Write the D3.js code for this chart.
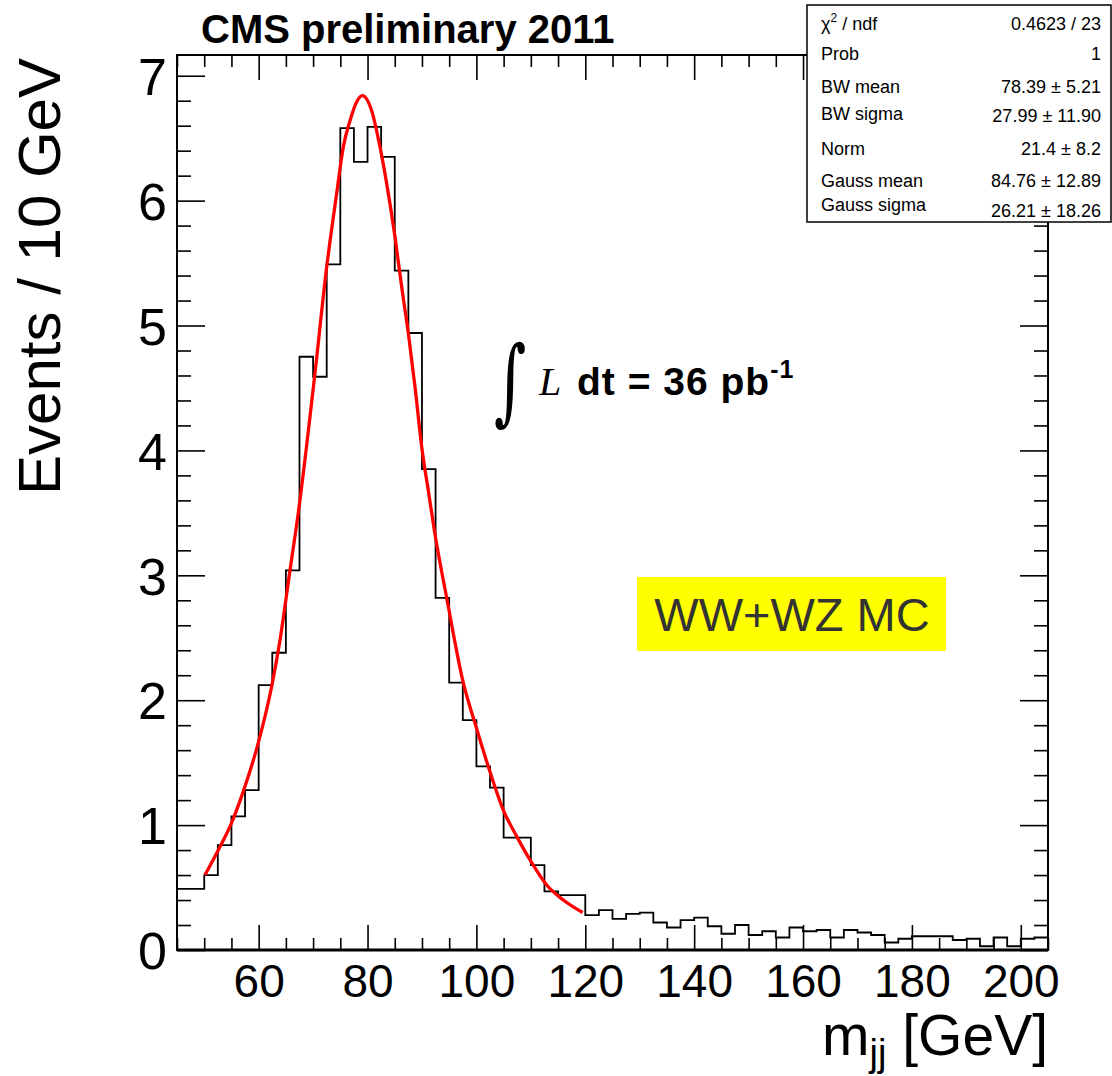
<!DOCTYPE html>
<html>
<head>
<meta charset="utf-8">
<script src="https://cdn.jsdelivr.net/npm/d3@7"></script>
<style>
  body { margin: 0; background: #fff; }
  svg { display: block; }
</style>
</head>
<body>
<div id="viz"></div>
<script>
// Canvas size
const width = 1112;
const height = 1076;

// Histogram: 2.5 GeV bins from 45 to 205 GeV
const binStart = 45;
const binWidth = 2.5;
const binCounts = [
    0.49, 0.49, 0.60, 0.84, 1.07, 1.28, 2.12, 2.38,
    3.04, 4.75, 4.59, 5.49, 6.58, 6.31, 6.59, 6.35,
    5.44, 4.94, 3.85, 2.82, 2.14, 1.84, 1.47, 1.30,
    0.90, 0.90, 0.68, 0.47, 0.44, 0.44, 0.28, 0.32,
    0.25, 0.29, 0.30, 0.22, 0.18, 0.24, 0.26, 0.19,
    0.13, 0.20, 0.12, 0.15, 0.10, 0.18, 0.15, 0.16,
    0.10, 0.16, 0.14, 0.12, 0.06, 0.09, 0.11, 0.11,
    0.11, 0.08, 0.09, 0.03, 0.10, 0.03, 0.09, 0.10
];

// Fit curve (red line)
const fitX = [50.14, 52.59, 55.04, 57.18, 59.94, 62.39, 63.92, 65.76, 67.28, 70.35,
    72.5, 74.34, 75.55, 76.78, 78.0, 79.05, 80.76, 82.29, 83.81, 85.04,
    86.27, 87.49, 88.72, 89.95, 91.3, 92.5, 94.54, 97.59, 99.92, 102.18,
    104.94, 107.4, 110.15, 112.91, 115.96, 119.52];
const fitY = [0.60, 0.80, 1.02, 1.27, 1.66, 2.11, 2.48, 3.04, 3.50, 4.62,
    5.47, 6.06, 6.43, 6.64, 6.79, 6.84, 6.72, 6.43, 6.06, 5.71,
    5.31, 4.94, 4.51, 4.03, 3.64, 3.30, 2.82, 2.14, 1.79, 1.47,
    1.12, 0.91, 0.70, 0.52, 0.40, 0.30];

// Axis ticks
const xMajorTicks = [60, 80, 100, 120, 140, 160, 180, 200];
const yMajorTicks = [0, 1, 2, 3, 4, 5, 6, 7];

// Fit statistics box
const statLabels = ["χ", "Prob", "BW mean", "BW sigma", "Norm", "Gauss mean", "Gauss sigma"];
const statValues = ["0.4623 / 23", "1", "78.39 ± 5.21", "27.99 ± 11.90", "21.4 ± 8.2", "84.76 ± 12.89", "26.21 ± 18.26"];

const sans = "'Liberation Sans', Arial, Helvetica, sans-serif";

function main() {
    const svg = d3.select("#viz").append("svg")
        .attr("width", width)
        .attr("height", height)
        .style("background", "#fff");

    const x = d3.scaleLinear().domain([45, 205]).range([177, 1048]);
    const y = d3.scaleLinear().domain([0, 7.166]).range([950, 55]);

    const xMinor = d3.range(45, 206, 5).filter(v => xMajorTicks.indexOf(v) < 0);
    const yMinor = d3.range(0, 7.1, 0.2).filter(v => Math.abs(v - Math.round(v)) > 0.01);

    // Histogram outline as a step line
    const steps = [];
    binCounts.forEach((c, i) => {
        steps.push([binStart + i * binWidth, c]);
        steps.push([binStart + (i + 1) * binWidth, c]);
    });
    svg.append("path")
        .datum(steps)
        .attr("fill", "none")
        .attr("stroke", "#000")
        .attr("stroke-width", 1.8)
        .attr("d", d3.line().x(d => x(d[0])).y(d => y(d[1])));

    // Fit curve
    svg.append("path")
        .datum(fitX.map((v, i) => [v, fitY[i]]))
        .attr("fill", "none")
        .attr("stroke", "#ff0000")
        .attr("stroke-width", 3.3)
        .attr("d", d3.line().x(d => x(d[0])).y(d => y(d[1])).curve(d3.curveMonotoneX));

    // Axes: major and minor ticks, all pointing inwards
    const styleAxis = g => {
        g.select(".domain").remove();
        g.selectAll(".tick line").attr("stroke", "#000").attr("stroke-width", 1.6);
    };

    svg.append("g").attr("transform", `translate(0,${y(0)})`)
        .call(d3.axisBottom(x).tickValues(xMajorTicks).tickSizeInner(-25).tickSizeOuter(0).tickPadding(14))
        .call(styleAxis)
        .call(g => g.selectAll("text").attr("font-family", sans).attr("font-size", 46).attr("fill", "#000"));
    svg.append("g").attr("transform", `translate(0,${y(0)})`)
        .call(d3.axisBottom(x).tickValues(xMinor).tickSizeInner(-12).tickSizeOuter(0).tickFormat(""))
        .call(styleAxis);
    svg.append("g").attr("transform", `translate(0,${y.range()[1]})`)
        .call(d3.axisTop(x).tickValues(xMajorTicks).tickSizeInner(-25).tickSizeOuter(0).tickFormat(""))
        .call(styleAxis);
    svg.append("g").attr("transform", `translate(0,${y.range()[1]})`)
        .call(d3.axisTop(x).tickValues(xMinor).tickSizeInner(-12).tickSizeOuter(0).tickFormat(""))
        .call(styleAxis);

    svg.append("g").attr("transform", `translate(${x(45)},0)`)
        .call(d3.axisLeft(y).tickValues(yMajorTicks).tickSizeInner(-28).tickSizeOuter(0).tickPadding(10).tickFormat(d3.format("d")))
        .call(styleAxis)
        .call(g => g.selectAll("text").attr("font-family", sans).attr("font-size", 52).attr("fill", "#000").attr("dy", "0.36em"));
    svg.append("g").attr("transform", `translate(${x(45)},0)`)
        .call(d3.axisLeft(y).tickValues(yMinor).tickSizeInner(-14).tickSizeOuter(0).tickFormat(""))
        .call(styleAxis);
    svg.append("g").attr("transform", `translate(${x(205)},0)`)
        .call(d3.axisRight(y).tickValues(yMajorTicks).tickSizeInner(-28).tickSizeOuter(0).tickFormat(""))
        .call(styleAxis);
    svg.append("g").attr("transform", `translate(${x(205)},0)`)
        .call(d3.axisRight(y).tickValues(yMinor).tickSizeInner(-14).tickSizeOuter(0).tickFormat(""))
        .call(styleAxis);

    // Frame
    svg.append("rect")
        .attr("x", x(45)).attr("y", y.range()[1])
        .attr("width", x(205) - x(45)).attr("height", y(0) - y.range()[1])
        .attr("fill", "none").attr("stroke", "#000").attr("stroke-width", 2);
    svg.append("line")
        .attr("x1", x(45)).attr("x2", x(205)).attr("y1", y(0)).attr("y2", y(0))
        .attr("stroke", "#000").attr("stroke-width", 3);

    // Axis titles
    svg.append("text")
        .attr("transform", `translate(60,58) rotate(-90)`)
        .attr("text-anchor", "end")
        .attr("font-family", sans).attr("font-size", 60)
        .text("Events / 10 GeV");

    const xt = svg.append("text")
        .attr("x", 1048).attr("y", 1055)
        .attr("text-anchor", "end")
        .attr("font-family", sans).attr("font-size", 57);
    xt.append("tspan").text("m");
    xt.append("tspan").attr("font-size", 38).attr("dy", 11).text("jj");
    xt.append("tspan").attr("dy", -11).text(" [GeV]");

    // Title
    svg.append("text")
        .attr("x", 201).attr("y", 43)
        .attr("font-family", sans).attr("font-size", 40).attr("font-weight", "bold")
        .text("CMS preliminary 2011");

    // Luminosity label
    svg.append("text")
        .attr("transform", "translate(494,413) scale(0.66,1)")
        .attr("font-family", "'DejaVu Serif', serif").attr("font-size", 94)
        .text("∫");
    svg.append("text")
        .attr("x", 539).attr("y", 395)
        .attr("font-family", "'Liberation Serif', 'Times New Roman', serif")
        .attr("font-style", "italic").attr("font-size", 40)
        .text("L");
    const lumi = svg.append("text")
        .attr("x", 577).attr("y", 395)
        .attr("font-family", sans).attr("font-size", 39).attr("font-weight", "bold")
        .attr("letter-spacing", 1);
    lumi.append("tspan").text("dt = 36 pb");
    lumi.append("tspan").attr("font-size", 25).attr("dy", -17).text("-1");

    // Sample label
    svg.append("rect")
        .attr("x", 637).attr("y", 577).attr("width", 309).attr("height", 74)
        .attr("fill", "#ffff00");
    svg.append("text")
        .attr("x", 792).attr("y", 631)
        .attr("text-anchor", "middle")
        .attr("font-family", sans).attr("font-size", 47).attr("fill", "#333")
        .text("WW+WZ MC");

    // Fit statistics box
    const labelBase = [30, 60, 93, 120, 155, 187, 211];
    const valueBase = [30, 60, 93, 122, 155, 187, 217];
    const stats = svg.append("g");
    stats.append("rect")
        .attr("x", 807).attr("y", 5).attr("width", 304).attr("height", 217)
        .attr("fill", "#fff").attr("stroke", "#000").attr("stroke-width", 1.5);
    statLabels.forEach((t, i) => {
        const lt = stats.append("text")
            .attr("x", 821).attr("y", labelBase[i])
            .attr("font-family", sans).attr("font-size", 18)
            .text(t);
        if (i === 0) {
            lt.append("tspan").attr("font-size", 12).attr("dy", -8).text("2");
            lt.append("tspan").attr("dy", 8).text(" / ndf");
        }
        stats.append("text")
            .attr("x", 1101).attr("y", valueBase[i])
            .attr("text-anchor", "end")
            .attr("font-family", sans).attr("font-size", 18)
            .text(statValues[i]);
    });
}

main();
</script>
</body>
</html>
